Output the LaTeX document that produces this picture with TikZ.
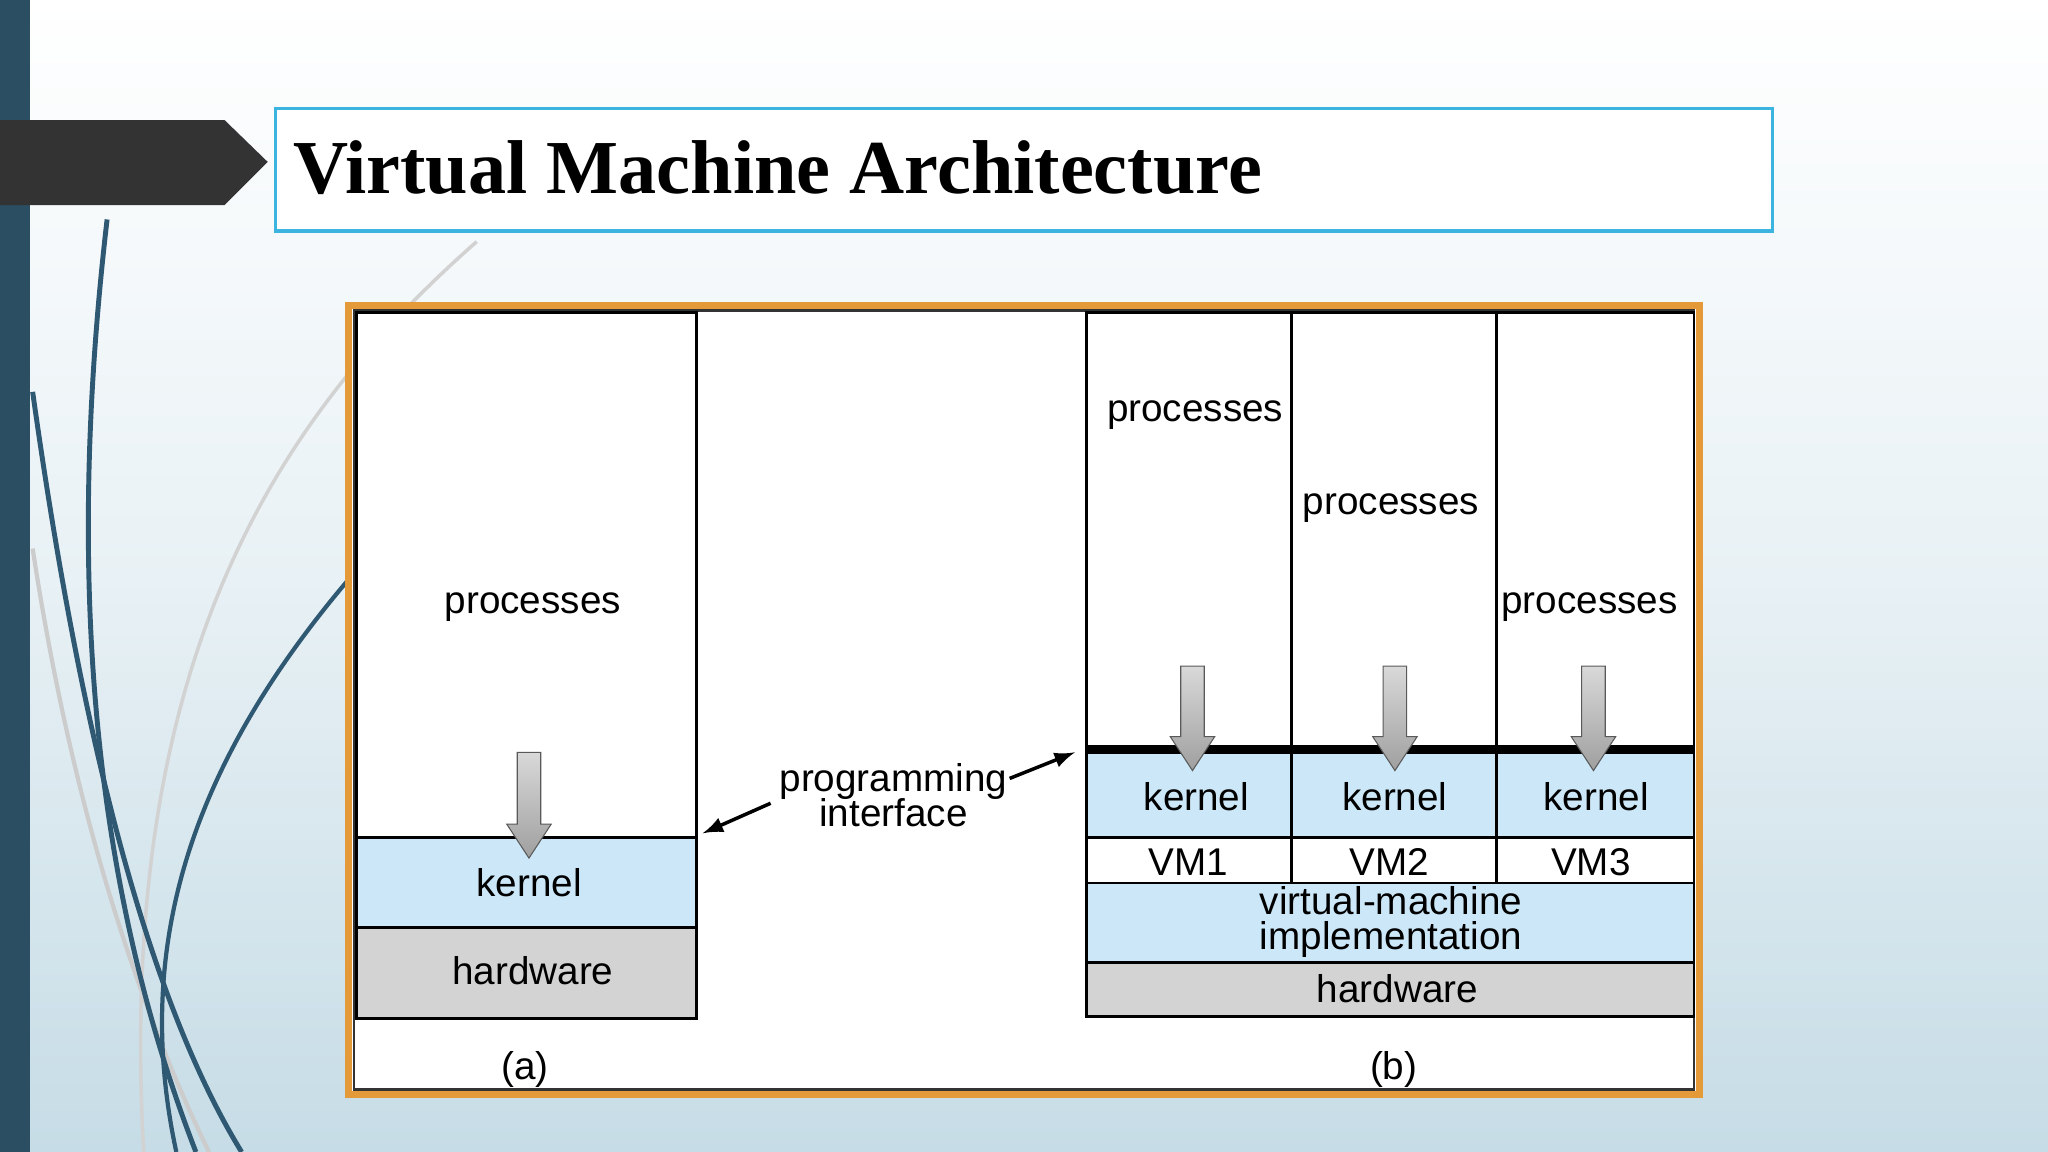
\documentclass[tikz,border=0pt]{standalone}
\usepackage{fontspec}
\setmainfont{Liberation Serif}
\newfontfamily\sans{Liberation Sans}
\begin{document}
\begin{tikzpicture}[x=0.013061cm,y=-0.013061cm,
  lbl/.style={font=\sans\fontsize{11}{12}\selectfont,inner sep=0pt,align=center},
  blk/.style={draw=black,line width=0.8pt},
  kfill/.style={fill=kblue},
  hfill/.style={fill=hgray}]
\definecolor{kblue}{HTML}{CCE8F8}
\definecolor{hgray}{HTML}{D3D3D3}
\definecolor{bar}{HTML}{2C4E63}
\definecolor{curve}{HTML}{2F5873}
\definecolor{frameor}{HTML}{E59A3A}
\definecolor{titleb}{HTML}{3BB4E0}
\definecolor{bgb}{HTML}{C6DCE6}
\newcommand{\downarr}[3]{% x, ytop, ybottom
  \shade[top color=gray!30,bottom color=gray!75,draw=gray!70!black,line width=0.3pt]
   (#1-9,#2) -- (#1+9,#2) -- (#1+9,#3-26) -- (#1+17,#3-26) -- (#1,#3) -- (#1-17,#3-26) -- (#1-9,#3-26) -- cycle;}
\useasboundingbox (0,0) rectangle (1568,882);
\shade[top color=white,bottom color=bgb,middle color=bgb!40] (0,0) rectangle (1568,882);
% decorative curves
\draw[gray!40,line width=1.2pt] (25,420) .. controls (60,650) and (120,800) .. (160,882);
\draw[gray!35,line width=1pt] (365,185) .. controls (200,330) and (90,520) .. (110,882);
\draw[curve,line width=1.4pt] (82,168) .. controls (55,400) and (60,650) .. (150,882);
\draw[curve,line width=1.4pt] (25,300) .. controls (60,550) and (110,760) .. (185,882);
\draw[curve,line width=1.2pt] (270,440) .. controls (150,580) and (100,720) .. (135,882);
\fill[bar] (0,0) rectangle (23,882);
\fill[black!80] (0,92) -- (172,92) -- (205,124) -- (172,157) -- (0,157) -- cycle;
% title
\draw[titleb,line width=1pt,fill=white] (211,83) rectangle (1357,177);
\node[anchor=west,font=\bfseries\fontsize{21.7}{24}\selectfont,inner sep=0pt] (tt) at (224,128) {Virtual Machine Architecture};
% frame
\draw[frameor,line width=2pt,fill=white] (267,234) rectangle (1301,838);
\draw[black!80,line width=0.8pt] (271,238) rectangle (1297,834);
% (a)
\draw[blk] (273,239) rectangle (533,641);
\draw[blk,kfill] (273,641) rectangle (533,710);
\draw[blk,hfill] (273,710) rectangle (533,780);
\node[lbl] (pa) at (408,465) {processes};
\node[lbl] (ka) at (405,676) {kernel};
\node[lbl] (ha) at (408,743) {hardware};
\downarr{405}{576}{657}
\node[lbl] (a) at (402,819) {(a)};
% programming interface
\node[lbl] (pi) at (684,609) {programming\\[-2pt]interface};
\coordinate (pa1) at (538,638);
\coordinate (pb1) at (823,576);
\draw[-latex,line width=1pt] (590,615) -- (pa1);
\draw[-latex,line width=1pt] (773,596) -- (pb1);
% (b)
\foreach \x/\y/\n [count=\i] in {832/989/1,989/1146/2,1146/1297/3}{
  \draw[blk] (\x,239) rectangle (\y,574);
  \draw[blk,kfill] (\x,574) rectangle (\y,641);
  \draw[blk,fill=white] (\x,641) rectangle (\y,676);
}
\draw[line width=2.5pt] (832,574) -- (1297,574);
\node[lbl] (k1) at (916,610) {kernel};
\node[lbl] (k2) at (1068,610) {kernel};
\node[lbl] (k3) at (1222,610) {kernel};
\node[lbl] (v1) at (910,660) {VM1};
\node[lbl] (v2) at (1064,660) {VM2};
\node[lbl] (v3) at (1218,660) {VM3};
\node[lbl] (p1) at (915,318) {processes};
\node[lbl] (p2) at (1065,389) {processes};
\node[lbl] (p3) at (1217,465) {processes};
\downarr{913}{510}{590}
\downarr{1068}{510}{590}
\downarr{1220}{510}{590}
\draw[blk,kfill] (832,676) rectangle (1297,737);
\draw[blk,hfill] (832,737) rectangle (1297,778);
\node[lbl] (vmi) at (1065,706) {virtual-machine\\[-2pt]implementation};
\node[lbl] (hb) at (1070,757) {hardware};
\node[lbl] (b) at (1067,819) {(b)};
\end{tikzpicture}
\end{document}
